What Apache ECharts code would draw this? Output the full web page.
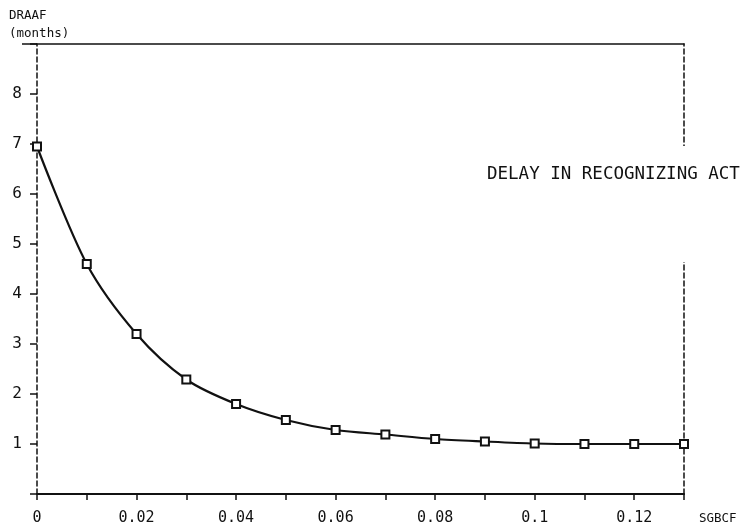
<!DOCTYPE html>
<html>
<head>
<meta charset="utf-8">
<script src="https://cdn.jsdelivr.net/npm/echarts@6/dist/echarts.min.js"></script>
<style>
  html, body { margin: 0; padding: 0; background: #fff; }
  #main { width: 742px; height: 530px; }
</style>
</head>
<body>
<div id="main"></div>
<script>
// SGBCF values (x) and DRAAF in months (y)
const sgbcf = [0, 0.01, 0.02, 0.03, 0.04, 0.05, 0.06, 0.07, 0.08, 0.09, 0.1, 0.11, 0.12, 0.13]
const draaf = [6.95, 4.6, 3.2, 2.29, 1.8, 1.48, 1.28, 1.19, 1.1, 1.05, 1.01, 1.0, 1.0, 1.0]
const xLabels = ['0', '0.02', '0.04', '0.06', '0.08', '0.1', '0.12']
const yLabels = ['1', '2', '3', '4', '5', '6', '7', '8']

const font = 'DejaVu Sans Mono, Liberation Mono, monospace'
const ink = '#111'

const chart = echarts.init(document.getElementById('main'))

chart.setOption({
  animation: false,
  backgroundColor: '#fff',
  grid: { left: 37, right: 58, top: 44, bottom: 36, containLabel: false, outerBoundsMode: 'none' },
  xAxis: [
    {
      type: 'value',
      min: 0, max: 0.13, interval: 0.01,
      axisLine: { show: true, onZero: false, lineStyle: { color: ink, width: 2 } },
      axisTick: { show: true, length: 6, lineStyle: { color: ink, width: 1.5 } },
      splitLine: { show: false },
      axisLabel: {
        color: ink, fontFamily: font, fontSize: 15, margin: 17,
        formatter: function (v) {
          const s = String(Math.round(v * 100) / 100)
          return xLabels.indexOf(s) >= 0 ? s : ''
        }
      }
    },
    {
      type: 'value', position: 'top',
      min: 0, max: 0.13,
      axisLine: { show: true, onZero: false, lineStyle: { color: ink, width: 1.5 } },
      axisTick: { show: false }, axisLabel: { show: false }, splitLine: { show: false }
    }
  ],
  yAxis: [
    {
      type: 'value',
      min: 0, max: 9, interval: 1,
      axisLine: { show: true, onZero: false, lineStyle: { color: ink, width: 1.5, type: [5, 3] } },
      axisTick: { show: true, length: 7, lineStyle: { color: ink, width: 1.5 } },
      splitLine: { show: false },
      axisLabel: {
        color: ink, fontFamily: font, fontSize: 16, margin: 15,
        formatter: function (v) {
          const s = String(Math.round(v))
          return yLabels.indexOf(s) >= 0 ? s : ''
        }
      }
    },
    {
      type: 'value', position: 'right',
      min: 0, max: 9,
      axisLine: { show: true, onZero: false, lineStyle: { color: ink, width: 1.5, type: [5, 3] } },
      axisTick: { show: false }, axisLabel: { show: false }, splitLine: { show: false }
    }
  ],
  graphic: [
    // gap in the right frame where the title sits
    { type: 'rect', shape: { x: 678, y: 146, width: 12, height: 116 }, style: { fill: '#fff' }, z: 100 },
    { type: 'text', x: 487, y: 165, z: 101, style: { text: 'DELAY IN RECOGNIZING ACT', fill: ink, font: '17.5px ' + font } },
    { type: 'text', x: 9, y: 9, style: { text: 'DRAAF', fill: ink, font: '12.5px ' + font } },
    { type: 'text', x: 9, y: 27, style: { text: '(months)', fill: ink, font: '12.5px ' + font } },
    { type: 'line', shape: { x1: 22, y1: 44, x2: 37, y2: 44 }, style: { stroke: ink, lineWidth: 1.5 } },
    { type: 'text', x: 699, y: 512, style: { text: 'SGBCF', fill: ink, font: '12.5px ' + font } }
  ],
  series: [
    {
      type: 'line',
      data: sgbcf.map((x, i) => [x, draaf[i]]),
      smooth: 0.3,
      symbol: 'emptyRect',
      symbolSize: 8,
      lineStyle: { color: ink, width: 2.2 },
      itemStyle: { color: ink, borderColor: ink, borderWidth: 1.3 },
      z: 5
    }
  ]
})
</script>
</body>
</html>
